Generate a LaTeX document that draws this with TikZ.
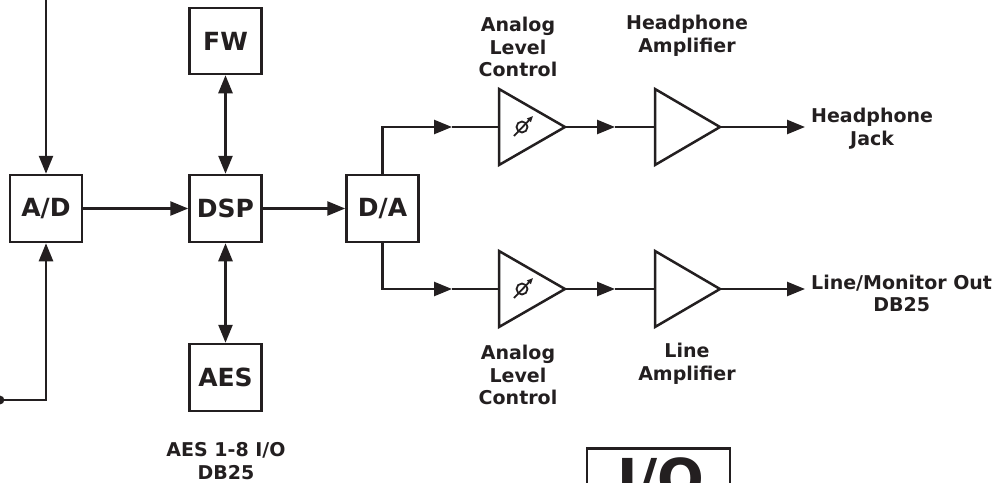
\documentclass[tikz,border=0pt]{standalone}
\usepackage{fontspec}
\setmainfont{DejaVu Sans}
\usetikzlibrary{arrows.meta}
\definecolor{ink}{HTML}{231F20}
\begin{document}
\begin{tikzpicture}[x=1pt,y=-1pt,color=ink,
  blk/.style={draw,line width=2.5pt,inner sep=0,minimum width=72pt,minimum height=67pt,font=\fontsize{25}{28}\selectfont\bfseries},
  lbl/.style={align=center,font=\fontsize{19}{22.5}\selectfont\bfseries,inner sep=0},
  wire/.style={line width=2.5pt},
  arr/.style={wire,-{Triangle[length=18pt,width=14pt]}},
  darr/.style={wire,{Triangle[length=18pt,width=14pt]}-{Triangle[length=18pt,width=14pt]}},
  amp/.style={line width=2.5pt,line join=miter},
  knob/.style={line width=1.8pt}]
\clip (0,0) rectangle (1004,482);
% blocks
\node[blk] (ad) at (46,208.5) {A/D};
\node[blk] (dsp) at (225.5,208.5) {DSP};
\node[blk,minimum height=66pt] (fw) at (225.5,41) {FW};
\node[blk] (aes) at (225.5,377.5) {AES};
\node[blk] (da) at (382.5,208.5) {D/A};
% inputs
\coordinate (in1) at (46,-5);
\node[circle,draw,line width=1.6pt,fill=ink,minimum size=7pt,inner sep=0] (jack) at (0,400) {};
\draw[arr] (in1) -- (ad.north);
\draw[arr] (jack) -| (ad.south);
\draw[arr] (ad) -- (dsp);
\draw[darr] (fw) -- (dsp);
\draw[darr] (dsp) -- (aes);
\draw[arr] (dsp) -- (da);
% triangles
\coordinate (t1w) at (499,127); \coordinate (t1e) at (565,127);
\coordinate (t2w) at (655,127); \coordinate (t2e) at (720,127);
\coordinate (t3w) at (499,289); \coordinate (t3e) at (565,289);
\coordinate (t4w) at (655,289); \coordinate (t4e) at (720,289);
\draw[amp] (499,89) -- (t1e) -- (499,165) -- cycle;
\draw[amp] (655,89) -- (t2e) -- (655,165) -- cycle;
\draw[amp] (499,251) -- (t3e) -- (499,327) -- cycle;
\draw[amp] (655,251) -- (t4e) -- (655,327) -- cycle;
% variable level symbols
\draw[knob] (522,127) circle (5.5);
\draw[knob,-{Triangle[length=6pt,width=5pt]}] (514,136) -- (533,116);
\draw[knob] (522,289) circle (5.5);
\draw[knob,-{Triangle[length=6pt,width=5pt]}] (514,298) -- (533,278);
% connectors upper branch
\coordinate (m1) at (452,127);
\coordinate (m2) at (615,127);
\coordinate (o1) at (805,127);
\draw[arr] (da.north) |- (m1);
\draw[wire] (m1) -- (t1w);
\draw[arr] (t1e) -- (m2);
\draw[wire] (m2) -- (t2w);
\draw[arr] (t2e) -- (o1);
% lower branch
\coordinate (m3) at (452,289);
\coordinate (m4) at (615,289);
\coordinate (o2) at (805,289);
\draw[arr] (da.south) |- (m3);
\draw[wire] (m3) -- (t3w);
\draw[arr] (t3e) -- (m4);
\draw[wire] (m4) -- (t4w);
\draw[arr] (t4e) -- (o2);
% labels
\node[lbl] (l1) at (518,47) {Analog\\Level\\Control};
\node[lbl] (l2) at (687,36) {Headphone\\Amplifier};
\node[lbl] (l3) at (518,375) {Analog\\Level\\Control};
\node[lbl] (l4) at (687,364) {Line\\Amplifier};
\node[lbl,anchor=west] (l5) at (811,128.5) {Headphone\\Jack};
\node[lbl,anchor=west] (l6) at (811,293.5) {Line/Monitor Out\\DB25};
\node[lbl] (l7) at (226,461) {AES 1-8 I/O\\DB25};
% I/O box
\node[draw,line width=2.5pt,minimum width=143pt,minimum height=80pt,anchor=north,inner sep=0] (io) at (658.5,447) {};
\node[font=\fontsize{55}{60}\selectfont\bfseries,anchor=base,inner sep=0] (iot) at (661,498) {I/O};
\end{tikzpicture}
\end{document}
